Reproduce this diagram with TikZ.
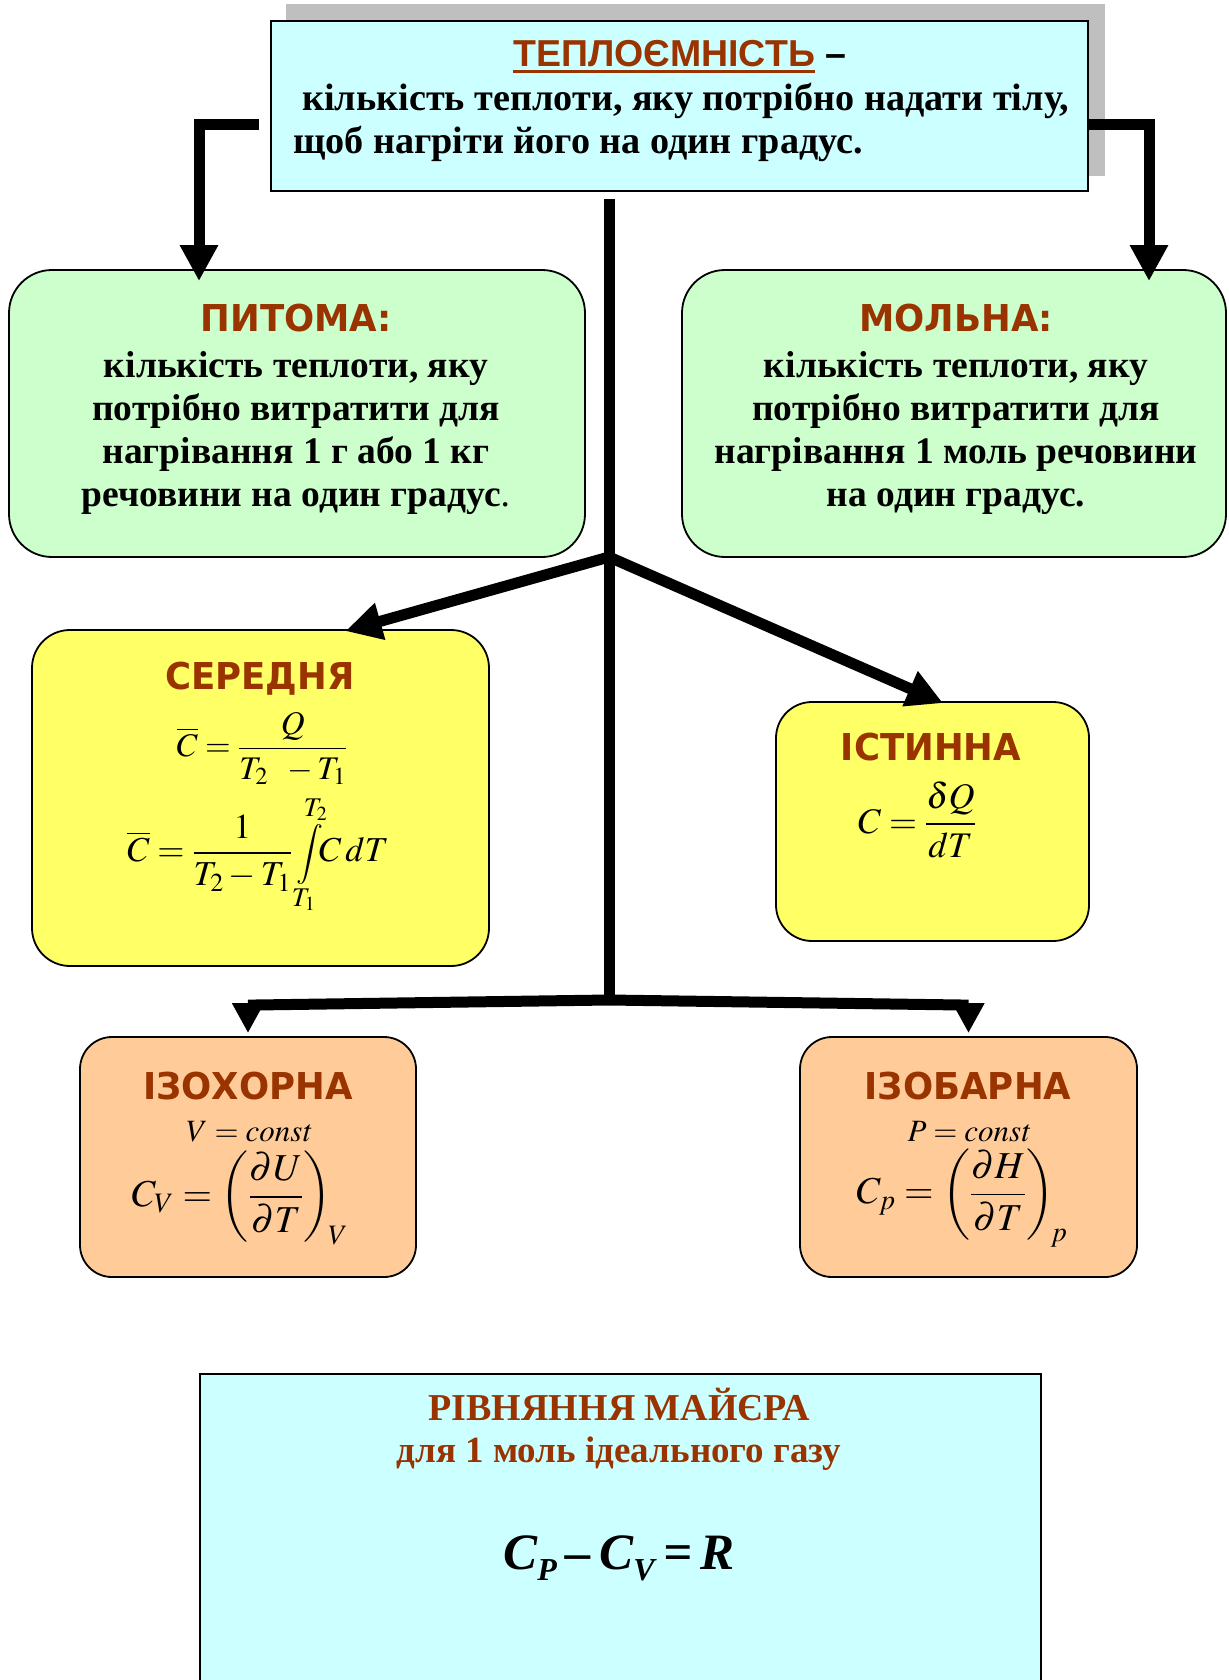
\documentclass[tikz,border=0pt]{standalone}
\usepackage{amsmath}
\usepackage{mathptmx}
\usepackage{fontspec}
\setmainfont{Liberation Serif}
\newfontfamily\hsans{Liberation Sans}
\newfontfamily\ttlfont[FakeStretch=0.96]{DejaVu Sans}
\usetikzlibrary{arrows.meta,calc}
\definecolor{brn}{HTML}{993300}
\definecolor{cyanbox}{HTML}{CCFFFF}
\definecolor{grnbox}{HTML}{CCFFCC}
\definecolor{yelbox}{HTML}{FFFF66}
\definecolor{orgbox}{HTML}{FFCC99}
\newsavebox{\limTa}
\newsavebox{\limTb}
\sbox{\limTa}{\fontsize{27}{27}\selectfont$T_1$}
\sbox{\limTb}{\fontsize{27}{27}\selectfont$T_2$}
\tikzset{
  panel/.style={draw=black, line width=1.8pt, inner sep=0pt},
  ttl/.style={font=\ttlfont\bfseries\fontsize{37}{40}\selectfont, text=brn, inner sep=0pt},
  body/.style={font=\bfseries\fontsize{37.5}{43}\selectfont, align=center, inner sep=0pt},
  frm/.style={inner sep=0pt},
  trunk/.style={line width=11pt, line join=miter},
  conn/.style={line width=11pt, line join=miter, -{Triangle[length=36pt,width=36pt]}},
  connb/.style={line width=11pt, line join=miter, -{Triangle[length=30pt,width=30pt]}},
}
\begin{document}
\begin{tikzpicture}[x=1pt,y=-1pt]
\useasboundingbox (0,0) rectangle (1228,1680);

% boxes
\node[panel, fill=grnbox, rounded corners=43pt, minimum width=576pt, minimum height=287pt] (gl) at (297,413.5) {};
\node[panel, fill=grnbox, rounded corners=43pt, minimum width=544pt, minimum height=287pt] (gr) at (954,413.5) {};
\node[panel, fill=yelbox, rounded corners=38pt, minimum width=457pt, minimum height=336pt] (yl) at (260.5,798) {};
\node[panel, fill=yelbox, rounded corners=36pt, minimum width=313pt, minimum height=239pt] (yr) at (932.5,821.5) {};
\node[panel, fill=orgbox, rounded corners=32pt, minimum width=336pt, minimum height=240pt] (ol) at (248,1157) {};
\node[panel, fill=orgbox, rounded corners=32pt, minimum width=337pt, minimum height=240pt] (or) at (968.5,1157) {};
\node[panel, fill=cyanbox, minimum width=841pt, minimum height=326pt] (bot) at (620.5,1537) {};

% top box (placeholder for anchors)
\path (679.5,106) node[panel, draw=none, minimum width=817pt, minimum height=170pt] (top) {};

% junctions
\coordinate (j1) at (609,557);
\coordinate (j2) at (609,1002);
\coordinate (tlc) at (199,125);
\coordinate (trc) at (1149,125);

% connectors
\draw[conn] ($(top.west)+(-11,19)$) -- (tlc) -- ($(tlc |- gl.north)+(0,12)$);
\draw[conn] ($(top.east)+(0,19)$) -- (trc) -- ($(trc |- gr.north)+(0,12)$);
\draw[trunk] ($(top.south -| j1)+(0,7)$) -- (j2);
\draw[conn] (j1) -- ($(yl.north)+(85,2)$);
\draw[conn] (j1) -- ($(yr.north)+(10.5,2)$);
\draw[connb] ($(j2)+(0,-2)$) -- ($(ol.north)+(0,-31)$) -- ($(ol.north)+(0,-3)$);
\draw[connb] ($(j2)+(0,-2)$) -- ($(or.north)+(0,-31)$) -- ($(or.north)+(0,-3)$);

% shadow and top box
\fill[black, fill opacity=0.25] ($(top.south west)+(16,-16)$) rectangle ($(top.north east)+(16,-16)$);
\node[panel, fill=cyanbox, minimum width=817pt, minimum height=170pt] (topbox) at (top) {};

% top texts
\node[inner sep=0pt, anchor=base west, text=brn, font=\hsans\bfseries\fontsize{37.5}{40}\selectfont] (tt) at (513,67) {ТЕПЛОЄМНІСТЬ};
\node[inner sep=0pt, anchor=base west, font=\hsans\bfseries\fontsize{37.5}{40}\selectfont] (td) at ($(tt.base east)+(10,0)$) {–};
\draw[brn, line width=3pt] ($(tt.base west)+(0,5)$) -- ($(tt.base east)+(0,5)$);
\node[inner sep=0pt, anchor=base west, font=\bfseries\fontsize{38.2}{43}\selectfont] (t2) at (302,111) {кількість теплоти, яку потрібно надати тілу,};
\node[inner sep=0pt, anchor=base west, font=\bfseries\fontsize{38.2}{43}\selectfont] (t3) at (293,154) {щоб нагріти його на один градус.};

% green texts
\node[ttl] (pt) at (296,318) {ПИТОМА:};
\node[body] (pb) at (296,433) {кількість теплоти, яку\\потрібно витратити для\\нагрівання 1 г або 1 кг\\речовини на один градус{\mdseries .}};
\node[ttl] (mt) at (956,318) {МОЛЬНА:};
\node[body] (mb) at (956,433) {кількість теплоти, яку\\потрібно витратити для\\нагрівання 1 моль речовини\\на один градус.};

% yellow texts
\node[ttl] (st) at (260,679) {СЕРЕДНЯ};
\node[frm] (f1) at (262,748) {\fontsize{33}{38}\selectfont$\displaystyle\overline{C}=\frac{Q}{T_2\;\;-T_1}$};
\node[frm] (f2) at (258,857) {\fontsize{35}{40}\selectfont$\displaystyle\overline{C}=\frac{1}{T_2-T_1}\,\mbox{\fontsize{30}{34}\selectfont$\displaystyle\int\limits_{\raisebox{8pt}{\usebox{\limTa}}}^{\raisebox{-8pt}{\usebox{\limTb}}}$}\!C\,dT$};
\node[ttl] (it) at (931,747) {ІСТИННА};
\node[frm] (f3) at (917,820) {\fontsize{36}{40}\selectfont$\displaystyle C=\frac{\delta Q}{dT}$};

% orange texts
\node[ttl] (ot) at (248,1086) {ІЗОХОРНА};
\node[frm] (vc) at (249,1132) {\fontsize{31}{34}\selectfont$V=\mathit{const}$};
\node[frm] (cv) at (240,1198) {\fontsize{38}{42}\selectfont$\displaystyle C_V=\left(\frac{\partial U}{\partial T}\right)_{\!V}$};
\node[ttl] (bt) at (968,1086) {ІЗОБАРНА};
\node[frm] (pc) at (969,1132) {\fontsize{31}{34}\selectfont$P=\mathit{const}$};
\node[frm] (cp) at (962,1198) {\fontsize{38}{42}\selectfont$\displaystyle C_p=\left(\frac{\partial H}{\partial T}\right)_{\!p}$};

% Mayer
\node[inner sep=0pt, text=brn, font=\bfseries\fontsize{38}{44}\selectfont] (m1) at (619,1404) {РІВНЯННЯ МАЙЄРА};
\node[inner sep=0pt, text=brn, font=\bfseries\fontsize{37}{40}\selectfont] (m2) at (619,1454) {для 1 моль ідеального газу};
\node[inner sep=0pt, font=\bfseries\itshape\fontsize{51}{56}\selectfont] (m3) at (619,1558) {C\raisebox{-0.22em}{\fontsize{32}{32}\selectfont P}\,–\,C\raisebox{-0.22em}{\fontsize{32}{32}\selectfont V}\,=\,R};
\end{tikzpicture}
\end{document}
